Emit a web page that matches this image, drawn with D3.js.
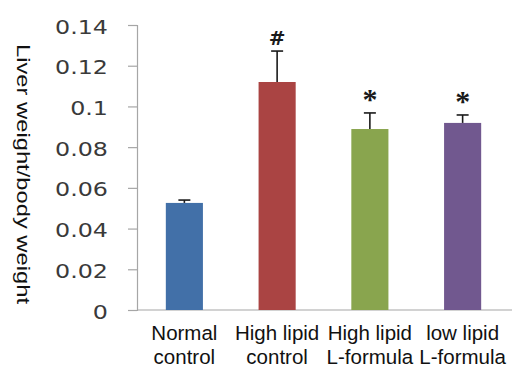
<!DOCTYPE html>
<html>
<head>
<meta charset="utf-8">
<script src="https://cdn.jsdelivr.net/npm/d3@7"></script>
<style>
  body { margin: 0; background: #fff; }
  svg { display: block; }
</style>
</head>
<body>
<svg width="512" height="367"></svg>
<script>
// Chart data
const groups = ["Normal control", "High lipid control", "High lipid L-formula", "low lipid L-formula"];
const labelLines = [["Normal", "control"], ["High lipid", "control"], ["High lipid", "L-formula"], ["low lipid", "L-formula"]];
const ratios = [0.0526, 0.112, 0.0889, 0.0919];
const errors = [0.0014, 0.0152, 0.0079, 0.0039];
const marks = ["", "#", "*", "*"];
const yTicks = [0, 0.02, 0.04, 0.06, 0.08, 0.1, 0.12, 0.14];
const colors = ["#4270a8", "#aa4443", "#89a54e", "#71588f"];

const svg = d3.select("svg");

// Scales
const x = d3.scaleBand()
    .domain(groups)
    .range([138, 509])
    .paddingInner(0.6)
    .paddingOuter(0.3);

const y = d3.scaleLinear()
    .domain([0, 0.14])
    .range([310, 25]);

// Y axis line and ticks (gray, Excel style)
const yAxis = d3.axisLeft(y)
    .tickValues(yTicks)
    .tickSize(9)
    .tickFormat("");

svg.append("g")
    .attr("transform", "translate(137,0)")
    .call(yAxis)
    .call(g => g.select(".domain").attr("stroke", "#a6a6a6").attr("stroke-width", 1.2))
    .call(g => g.selectAll(".tick line").attr("stroke", "#a6a6a6").attr("stroke-width", 1.2));

// Tick labels, drawn separately so they can be stretched like the original
svg.append("g")
    .selectAll("text")
    .data(yTicks)
    .enter()
    .append("text")
    .attr("transform", d => `translate(108, ${y(d) + 8.5}) scale(1.22,1)`)
    .attr("text-anchor", "end")
    .style("font-family", "'DejaVu Sans', sans-serif")
    .style("font-size", "19.5px")
    .style("fill", "#3a3a3a")
    .text(d => d === 0 ? "0" : String(d));

// X baseline
svg.append("line")
    .attr("x1", 137)
    .attr("x2", 512)
    .attr("y1", y(0))
    .attr("y2", y(0))
    .attr("stroke", "#a6a6a6")
    .attr("stroke-width", 1.2);

// Bars
svg.selectAll("rect.bar")
    .data(groups)
    .enter()
    .append("rect")
    .attr("class", "bar")
    .attr("x", d => x(d))
    .attr("y", (d, i) => y(ratios[i]))
    .attr("width", x.bandwidth())
    .attr("height", (d, i) => y(0) - y(ratios[i]))
    .attr("fill", (d, i) => colors[i]);

// Error bars (upper only)
const errG = svg.append("g")
    .attr("stroke", "#1a1a1a")
    .attr("stroke-width", 1.6);

groups.forEach((g, i) => {
    const cx = x(g) + x.bandwidth() / 2;
    errG.append("line")
        .attr("x1", cx).attr("x2", cx)
        .attr("y1", y(ratios[i])).attr("y2", y(ratios[i] + errors[i]));
    errG.append("line")
        .attr("x1", cx - 6).attr("x2", cx + 6)
        .attr("y1", y(ratios[i] + errors[i])).attr("y2", y(ratios[i] + errors[i]));
});

// Significance marks above error bars
svg.selectAll("text.mark")
    .data(groups)
    .enter()
    .append("text")
    .attr("class", "mark")
    .attr("x", d => x(d) + x.bandwidth() / 2)
    .attr("y", (d, i) => y(ratios[i] + errors[i]) - (marks[i] === "#" ? 6 : 4))
    .attr("text-anchor", "middle")
    .style("font-family", (d, i) => marks[i] === "#" ? "'DejaVu Sans', sans-serif" : "'Liberation Serif', serif")
    .style("font-weight", "bold")
    .style("font-size", (d, i) => marks[i] === "#" ? "20px" : "30px")
    .style("fill", "#1a1a1a")
    .text((d, i) => marks[i]);

// Category labels, two lines each
const xLab = svg.append("g")
    .style("font-family", "'Liberation Sans', Arial, sans-serif")
    .style("font-size", "20.5px")
    .style("fill", "#111");

groups.forEach((g, i) => {
    const cx = x(g) + x.bandwidth() / 2;
    labelLines[i].forEach((line, j) => {
        xLab.append("text")
            .attr("x", cx)
            .attr("y", 340 + j * 24)
            .attr("text-anchor", "middle")
            .text(line);
    });
});

// Y axis title (stretched along its length like the original)
svg.append("text")
    .attr("transform", "translate(17,44) rotate(90) scale(1.25,1)")
    .style("font-family", "'Liberation Sans', Arial, sans-serif")
    .style("font-size", "19px")
    .style("fill", "#111")
    .text("Liver weight/body weight");
</script>
</body>
</html>
